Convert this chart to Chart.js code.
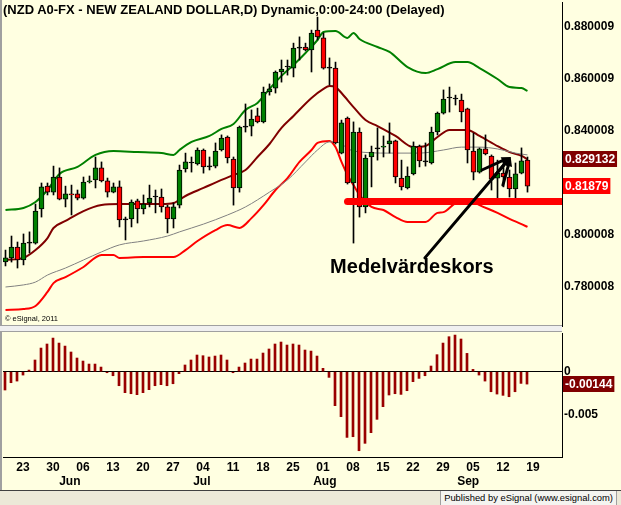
<!DOCTYPE html>
<html>
<head>
<meta charset="utf-8">
<title>NZD A0-FX</title>
<script src="https://cdn.jsdelivr.net/npm/chart.js@4/dist/chart.umd.min.js"></script>
<style>
  body { margin: 0; background: #ffffe1; }
  #frame { position: relative; width: 621px; height: 505px; overflow: hidden; background: #ffffe1; font-family: "Liberation Sans", Arial, sans-serif; }
  canvas { position: absolute; left: 0; }
  #price { top: 0; }
  #osc { top: 330px; }
  .txt { position: absolute; white-space: nowrap; color: #000; }
  #title { left: 3px; top: 2px; font-weight: bold; font-size: 13px; }
  #copy { left: 5px; top: 314px; font-size: 7.5px; }
  #edge { position: absolute; left: 0; top: 0; width: 2px; height: 490px; background: #a0a0a0; }
  #split { position: absolute; left: 0; top: 325px; width: 562px; height: 7px; background: #f0f0f0; border-top: 1px solid #a0a0a0; border-bottom: 1px solid #a0a0a0; box-sizing: border-box; }
  #footer { position: absolute; left: 0; top: 490px; width: 621px; height: 15px; background: #ece9d8; border-top: 1px solid #404040; box-sizing: border-box; }
  #pub { position: absolute; right: 4px; top: 491px; height: 14px; line-height: 14px; padding: 0 3px; font-size: 9.4px; background: #f4f4f0; border-left: 1px solid #a0a0a0; border-right: 1px solid #a0a0a0; }
</style>
</head>
<body>
<div id="frame">
  <canvas id="price" width="621" height="327"></canvas>
  <canvas id="osc" width="621" height="161"></canvas>
  <div id="edge"></div>
  <div id="split"></div>
  <div id="footer"></div>
  <div class="txt" id="title">(NZD A0-FX - NEW ZEALAND DOLLAR,D) Dynamic,0:00-24:00 (Delayed)</div>
  <div class="txt" id="copy">&copy; eSignal, 2011</div>
  <div class="txt" id="pub">Published by eSignal (www.esignal.com)</div>
</div>
<script>
// daily bars, 18 May - 16 Sep 2011 (bar number = trading day)
const open = [
  0.7896, 0.7912, 0.7954, 0.7904, 0.7969, 0.7969, 0.8100, 0.8188, 0.8165, 0.8223,
  0.8138, 0.8158, 0.8158, 0.8142, 0.8204, 0.8212, 0.8258, 0.8208, 0.8165, 0.8185,
  0.8058, 0.8062, 0.8131, 0.8100, 0.8123, 0.8146, 0.8146, 0.8108, 0.8062, 0.8115,
  0.8254, 0.8277, 0.8273, 0.8327, 0.8262, 0.8265, 0.8327, 0.8377, 0.8292, 0.8181,
  0.8415, 0.8419, 0.8458, 0.8435, 0.8550, 0.8565, 0.8627, 0.8646, 0.8642, 0.8719,
  0.8723, 0.8712, 0.8788, 0.8758, 0.8642, 0.8642, 0.8315, 0.8450, 0.8200, 0.8396,
  0.8108, 0.8300, 0.8331, 0.8338, 0.8350, 0.8362, 0.8219, 0.8181, 0.8235, 0.8342,
  0.8281, 0.8277, 0.8396, 0.8469, 0.8527, 0.8523, 0.8519, 0.8485, 0.8323, 0.8242,
  0.8331, 0.8304, 0.8219, 0.8238, 0.8223, 0.8177, 0.8238, 0.8288
];
const high = [
  0.7942, 0.7996, 0.7973, 0.8004, 0.8012, 0.8119, 0.8200, 0.8200, 0.8265, 0.8258,
  0.8188, 0.8192, 0.8173, 0.8223, 0.8227, 0.8300, 0.8281, 0.8219, 0.8200, 0.8208,
  0.8069, 0.8135, 0.8138, 0.8154, 0.8192, 0.8173, 0.8177, 0.8115, 0.8123, 0.8269,
  0.8315, 0.8300, 0.8335, 0.8331, 0.8300, 0.8354, 0.8385, 0.8381, 0.8300, 0.8419,
  0.8504, 0.8481, 0.8488, 0.8569, 0.8581, 0.8631, 0.8673, 0.8673, 0.8738, 0.8762,
  0.8738, 0.8788, 0.8838, 0.8777, 0.8681, 0.8665, 0.8442, 0.8454, 0.8435, 0.8412,
  0.8308, 0.8342, 0.8412, 0.8381, 0.8431, 0.8365, 0.8288, 0.8262, 0.8358, 0.8346,
  0.8354, 0.8415, 0.8473, 0.8558, 0.8569, 0.8538, 0.8542, 0.8488, 0.8392, 0.8335,
  0.8385, 0.8308, 0.8288, 0.8288, 0.8250, 0.8277, 0.8335, 0.8300
];
const low = [
  0.7881, 0.7896, 0.7873, 0.7885, 0.7931, 0.7965, 0.8069, 0.8154, 0.8154, 0.8135,
  0.8108, 0.8077, 0.8135, 0.8138, 0.8200, 0.8181, 0.8204, 0.8146, 0.8162, 0.8031,
  0.7981, 0.8031, 0.8046, 0.8081, 0.8108, 0.8085, 0.8088, 0.8008, 0.8027, 0.8104,
  0.8242, 0.8242, 0.8269, 0.8238, 0.8250, 0.8258, 0.8323, 0.8277, 0.8115, 0.8165,
  0.8396, 0.8381, 0.8431, 0.8431, 0.8538, 0.8546, 0.8588, 0.8615, 0.8608, 0.8673,
  0.8708, 0.8627, 0.8750, 0.8638, 0.8577, 0.8350, 0.8312, 0.8196, 0.7969, 0.8069,
  0.8085, 0.8185, 0.8288, 0.8300, 0.8315, 0.8200, 0.8173, 0.8177, 0.8231, 0.8262,
  0.8265, 0.8273, 0.8385, 0.8465, 0.8473, 0.8500, 0.8435, 0.8277, 0.8212, 0.8238,
  0.8308, 0.8173, 0.8123, 0.8185, 0.8146, 0.8123, 0.8235, 0.8165
];
const close = [
  0.7912, 0.7954, 0.7904, 0.7969, 0.7969, 0.8092, 0.8185, 0.8165, 0.8223, 0.8138,
  0.8158, 0.8154, 0.8142, 0.8204, 0.8208, 0.8258, 0.8208, 0.8165, 0.8185, 0.8058,
  0.8058, 0.8127, 0.8100, 0.8119, 0.8142, 0.8146, 0.8108, 0.8062, 0.8108, 0.8250,
  0.8281, 0.8277, 0.8327, 0.8262, 0.8262, 0.8323, 0.8373, 0.8296, 0.8181, 0.8415,
  0.8415, 0.8446, 0.8435, 0.8550, 0.8562, 0.8627, 0.8638, 0.8646, 0.8719, 0.8719,
  0.8712, 0.8777, 0.8762, 0.8642, 0.8642, 0.8354, 0.8431, 0.8200, 0.8396, 0.8108,
  0.8296, 0.8319, 0.8331, 0.8342, 0.8362, 0.8223, 0.8185, 0.8227, 0.8342, 0.8285,
  0.8281, 0.8396, 0.8469, 0.8523, 0.8527, 0.8523, 0.8473, 0.8327, 0.8242, 0.8331,
  0.8312, 0.8215, 0.8238, 0.8223, 0.8177, 0.8235, 0.8285, 0.81879
];

// overlay lines: [bar, price]
const upperBand = [
  [0, 0.8096], [3, 0.8104], [5, 0.8127], [7, 0.8173], [9, 0.8235], [12, 0.8262],
  [15, 0.8308], [18, 0.8323], [22, 0.8319], [26, 0.8315], [28, 0.8308], [29, 0.8327],
  [31, 0.8358], [34, 0.8381], [36, 0.8408], [38, 0.8427], [40, 0.8481], [42, 0.8508],
  [44, 0.8562], [46, 0.8612], [48, 0.8654], [50, 0.8700], [52, 0.8750], [53, 0.8781],
  [55, 0.8785], [57, 0.8758], [58, 0.8777], [59, 0.8754], [62, 0.8723], [64, 0.8704],
  [67, 0.8646], [70, 0.8623], [72, 0.8638], [75, 0.8665], [77, 0.8665], [79, 0.8642],
  [82, 0.8600], [84, 0.8569], [86, 0.8565], [87, 0.8554]
];
const midBand = [
  [0, 0.7904], [3, 0.7912], [5, 0.7942], [7, 0.7988], [8, 0.8027], [10, 0.8054],
  [13, 0.8092], [16, 0.8115], [19, 0.8119], [26, 0.8119], [28, 0.8123], [30, 0.8150],
  [33, 0.8181], [36, 0.8212], [38, 0.8231], [40, 0.8250], [42, 0.8300], [44, 0.8350],
  [46, 0.8412], [48, 0.8458], [51, 0.8527], [53, 0.8562], [54, 0.8573], [55, 0.8569],
  [56, 0.8546], [58, 0.8492], [60, 0.8442], [62, 0.8419], [65, 0.8381], [68, 0.8338],
  [70, 0.8342], [72, 0.8377], [74, 0.8404], [77, 0.8404], [79, 0.8381], [82, 0.8342],
  [84, 0.8319], [86, 0.8304], [87, 0.8291]
];
const lowerBand = [
  [0, 0.7712], [3, 0.7715], [5, 0.7727], [7, 0.7781], [8, 0.7815], [10, 0.7838],
  [13, 0.7877], [16, 0.7923], [18, 0.7923], [19, 0.7912], [23, 0.7915], [28, 0.7915],
  [30, 0.7942], [32, 0.7977], [35, 0.8019], [37, 0.8038], [39, 0.8027], [41, 0.8065],
  [43, 0.8115], [45, 0.8173], [47, 0.8219], [49, 0.8281], [51, 0.8327], [52, 0.8354],
  [54, 0.8362], [55, 0.8338], [56, 0.8281], [57, 0.8231], [58, 0.8192], [59, 0.8154],
  [61, 0.8108], [63, 0.8096], [65, 0.8069], [67, 0.8050], [70, 0.8050], [72, 0.8085],
  [73, 0.8088], [75, 0.8123], [77, 0.8138], [79, 0.8115], [82, 0.8085], [84, 0.8062],
  [86, 0.8042], [87, 0.8031]
];
const slowAverage = [
  [0, 0.7800], [3, 0.7808], [5, 0.7819], [7, 0.7846], [10, 0.7873], [13, 0.7904],
  [16, 0.7935], [19, 0.7962], [23, 0.7977], [27, 0.7996], [29, 0.8012], [33, 0.8042],
  [37, 0.8077], [40, 0.8108], [44, 0.8165], [47, 0.8212], [50, 0.8281], [52, 0.8327],
  [54, 0.8358], [55, 0.8358], [58, 0.8323], [64, 0.8315], [69, 0.8315], [73, 0.8327],
  [76, 0.8338], [79, 0.8338], [82, 0.8331], [85, 0.8315], [87, 0.8308]
];

// lower panel histogram, one value per bar
const histogram = [
  -0.00213, -0.00128, -0.00109, -0.00039, 0.00019, 0.00136, 0.00275, 0.00322, 0.00391, 0.00333,
  0.00298, 0.00229, 0.00159, 0.00124, 0.00089, 0.00089, 0.00054, -0.00012, -0.00047, -0.00163,
  -0.00244, -0.00256, -0.00267, -0.00244, -0.00209, -0.00163, -0.00151, -0.00163, -0.0014, -0.00023,
  0.00078, 0.00136, 0.00194, 0.00186, 0.00171, 0.00182, 0.00194, 0.00136, -0.00012, 0.00054,
  0.00101, 0.00147, 0.00147, 0.00217, 0.00264, 0.00322, 0.00345, 0.0031, 0.00322, 0.0031,
  0.00252, 0.0024, 0.00182, 0.00039, -0.00066, -0.00395, -0.00523, -0.00764, -0.00756, -0.00919,
  -0.00833, -0.00709, -0.00554, -0.00407, -0.00271, -0.00256, -0.00264, -0.00221, -0.00116, -0.00078,
  -0.00047, 0.00066, 0.00198, 0.00333, 0.00407, 0.00426, 0.0038, 0.00213, 0.00027, -0.00039,
  -0.00109, -0.00233, -0.0026, -0.00275, -0.00291, -0.00233, -0.00136, -0.00144
];

const priceTicks = [0.780008, 0.800008, 0.840008, 0.860009, 0.880009];
const oscTicks = [0, -0.005];
const dayTicks = [3, 8, 13, 18, 23, 28, 33, 38, 43, 48, 53, 58, 63, 68, 73, 78, 83, 88];
const dayLabels = ['23', '30', '06', '13', '20', '27', '04', '11', '18', '25', '01', '08', '15', '22', '29', '05', '12', '19'];
const monthLabels = ['Jun', 'Jul', 'Aug', 'Sep'];
const monthAt = [10.8, 32.8, 53.3, 77.2];

const lastMid = 0.829132;
const lastClose = 0.81879;
const lastOsc = -0.00144;
const supportLevel = 0.8129;
const supportFrom = 57;
const note = 'Medelvärdeskors';
const noteAt = [54.1, 0.7854];
// [fromBar, fromPrice, toBar, toPrice]
const arrows = [
  [69.9, 0.7912, 84.2, 0.8300],
  [79.4, 0.8250, 84.2, 0.8300],
  [81.2, 0.8219, 84.2, 0.8300],
  [82.9, 0.8192, 84.2, 0.8300]
];

const xMin = -0.4167;
const xMax = 92.75;
// the histogram panel sits half a pixel left so its 2px bars land on whole pixels
const oscShift = 1 / 12;
const bars = open.map((o, i) => i);
const tickFont = { family: '"Liberation Sans", Arial, sans-serif', size: 12, weight: 'bold' };

// right-hand axes: fixed width, and no extra room reserved for the end labels
function fitRightAxis(s) {
  s.width = 59;
  s.paddingTop = 0;
  s.paddingBottom = 0;
}

function tag(ctx, area, scale, value, color) {
  const py = Math.round(scale.getPixelForValue(value));
  const text = String(value);
  ctx.font = 'bold 12px "Liberation Sans", Arial, sans-serif';
  const w = ctx.measureText(text).width + 4;
  ctx.fillStyle = color;
  ctx.fillRect(area.right + 1, py - 8, w, 16);
  ctx.fillStyle = '#fff';
  ctx.textBaseline = 'middle';
  ctx.textAlign = 'left';
  ctx.fillText(text, area.right + 3, py + 1);
}

const priceExtras = {
  id: 'priceExtras',
  afterDatasetsDraw(chart) {
    const { ctx, scales: { x, y } } = chart;
    ctx.save();
    ctx.strokeStyle = '#000';
    ctx.fillStyle = '#000';
    ctx.lineWidth = 3;
    ctx.lineCap = 'round';
    arrows.forEach(a => {
      const x0 = x.getPixelForValue(a[0]), y0 = y.getPixelForValue(a[1]);
      const x1 = x.getPixelForValue(a[2]), y1 = y.getPixelForValue(a[3]);
      const ang = Math.atan2(y1 - y0, x1 - x0);
      ctx.beginPath();
      ctx.moveTo(x0, y0);
      ctx.lineTo(x1 - 6 * Math.cos(ang), y1 - 6 * Math.sin(ang));
      ctx.stroke();
      ctx.beginPath();
      ctx.moveTo(x1, y1);
      ctx.lineTo(x1 - 10 * Math.cos(ang - 0.4), y1 - 10 * Math.sin(ang - 0.4));
      ctx.lineTo(x1 - 10 * Math.cos(ang + 0.4), y1 - 10 * Math.sin(ang + 0.4));
      ctx.closePath();
      ctx.fill();
    });
    ctx.font = 'bold 20px "Liberation Sans", Arial, sans-serif';
    ctx.textBaseline = 'alphabetic';
    ctx.fillText(note, x.getPixelForValue(noteAt[0]), y.getPixelForValue(noteAt[1]));
    ctx.restore();
  },
  afterDraw(chart) {
    const { ctx, chartArea, scales: { y } } = chart;
    ctx.save();
    tag(ctx, chartArea, y, lastMid, '#800000');
    tag(ctx, chartArea, y, lastClose, '#ff0000');
    ctx.restore();
  }
};

const oscExtras = {
  id: 'oscExtras',
  afterDraw(chart) {
    const { ctx, chartArea, scales: { x, y } } = chart;
    ctx.save();
    ctx.font = 'bold 12px "Liberation Sans", Arial, sans-serif';
    ctx.fillStyle = '#000';
    ctx.textAlign = 'center';
    ctx.textBaseline = 'middle';
    monthLabels.forEach((m, k) => ctx.fillText(m, x.getPixelForValue(monthAt[k]), chartArea.bottom + 25));
    tag(ctx, chartArea, y, lastOsc, '#800000');
    ctx.restore();
  }
};

function lineSet(points, color, width) {
  return {
    type: 'line',
    data: points.map(p => ({ x: p[0], y: p[1] })),
    borderColor: color,
    borderWidth: width,
    pointRadius: 0,
    cubicInterpolationMode: 'monotone',
    order: 10
  };
}

new Chart(document.getElementById('price'), {
  type: 'bar',
  data: {
    datasets: [
      lineSet(slowAverage, '#808080', 1),
      lineSet(lowerBand, '#ff0000', 2),
      lineSet(upperBand, '#008000', 2),
      lineSet(midBand, '#800000', 2),
      {
        data: bars.map(i => ({ x: i, y: [low[i], high[i]] })),
        backgroundColor: '#000',
        borderWidth: 0,
        barThickness: 1,
        grouped: false,
        order: 5
      },
      {
        data: bars.map(i => ({ x: i, y: [open[i], close[i]] })),
        backgroundColor: bars.map(i => close[i] > open[i] ? '#008000' : close[i] < open[i] ? '#ff0000' : '#000'),
        borderColor: '#000',
        borderWidth: 1,
        borderSkipped: false,
        barThickness: 5,
        minBarLength: 1,
        grouped: false,
        order: 4
      },
      {
        type: 'line',
        data: [{ x: supportFrom, y: supportLevel }, { x: xMax + 3, y: supportLevel }],
        borderColor: '#ff0000',
        borderWidth: 7,
        borderCapStyle: 'round',
        pointRadius: 0,
        clip: 0,
        order: 1
      }
    ]
  },
  options: {
    responsive: false,
    animation: false,
    events: [],
    layout: { padding: { left: 3, top: 2, bottom: 1, right: 0 } },
    plugins: { legend: { display: false }, tooltip: { enabled: false } },
    scales: {
      x: { type: 'linear', offset: false, min: xMin, max: xMax, display: false },
      y: {
        position: 'right',
        min: 0.765,
        max: 0.889615,
        afterFit: fitRightAxis,
        afterBuildTicks: s => { s.ticks = priceTicks.map(v => ({ value: v })); },
        grid: { display: false, drawTicks: false },
        border: { display: true, color: '#000' },
        ticks: { padding: 2, color: '#000', font: tickFont, callback: v => v.toFixed(6) }
      }
    }
  },
  plugins: [priceExtras]
});

new Chart(document.getElementById('osc'), {
  type: 'bar',
  data: {
    datasets: [{
      data: histogram.map((v, i) => ({ x: i, y: v })),
      backgroundColor: '#990000',
      barThickness: 2,
      grouped: false
    }]
  },
  options: {
    responsive: false,
    animation: false,
    events: [],
    layout: { padding: { left: 3, top: 3, bottom: 0, right: 0 } },
    plugins: { legend: { display: false }, tooltip: { enabled: false } },
    scales: {
      x: {
        type: 'linear',
        offset: false,
        min: xMin + oscShift,
        max: xMax + oscShift,
        afterFit: s => { s.height = 34; },
        afterBuildTicks: s => { s.ticks = dayTicks.map(v => ({ value: v })); },
        grid: { display: false, drawTicks: false },
        border: { display: true, color: '#000' },
        ticks: { autoSkip: false, maxRotation: 0, padding: 3, color: '#000', font: tickFont, callback: (v, i) => dayLabels[i] }
      },
      y: {
        position: 'right',
        min: -0.009919,
        max: 0.0045,
        afterFit: fitRightAxis,
        afterBuildTicks: s => { s.ticks = oscTicks.map(v => ({ value: v })); },
        grid: { drawTicks: false, color: c => (c.tick && c.tick.value === 0) ? '#000' : 'rgba(0,0,0,0)' },
        border: { display: true, color: '#000' },
        ticks: { padding: 2, color: '#000', font: tickFont, callback: v => String(v) }
      }
    }
  },
  plugins: [oscExtras]
});
</script>
</body>
</html>
